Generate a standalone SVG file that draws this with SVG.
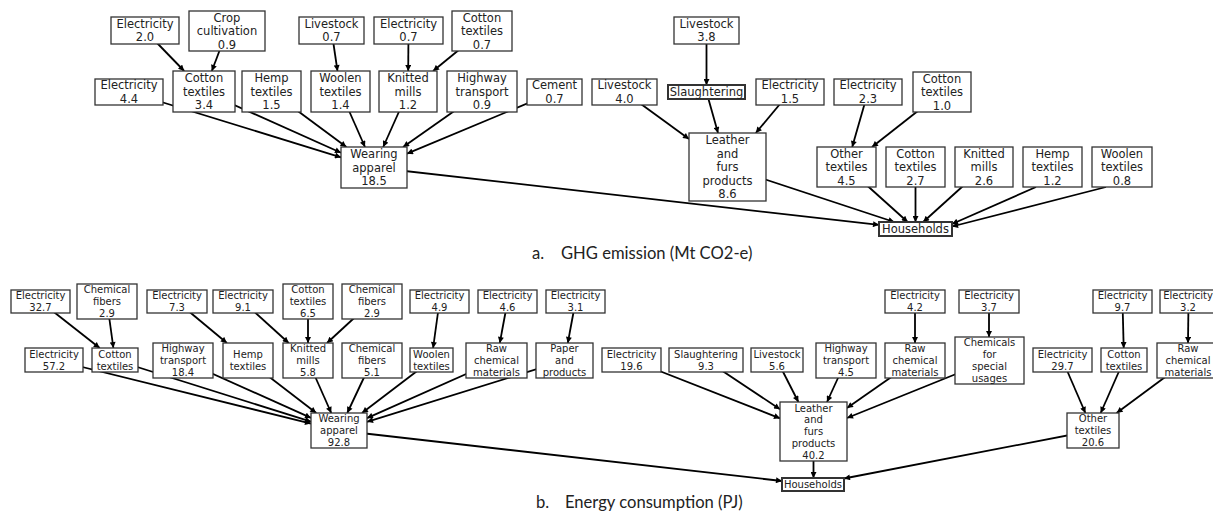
<svg xmlns="http://www.w3.org/2000/svg" width="1213" height="513" viewBox="0 0 1213 513">
<style>
.bg{fill:#fff}
.box{fill:#fff;stroke:#333;stroke-width:1.3}
.tight{stroke-width:2}
.ta{font-family:"DejaVu Sans",sans-serif;font-size:11.5px;fill:#222;text-anchor:middle}
.tb{font-family:"DejaVu Sans",sans-serif;font-size:10px;fill:#222;text-anchor:middle}
.e{stroke:#000;stroke-width:1.8;fill:none;marker-end:url(#ah)}
.cap{font-family:Lato,"Liberation Sans",sans-serif;font-size:16.6px;fill:#222}
</style>
<defs>
<marker id="ah" viewBox="0 0 10 10" refX="10" refY="5" markerWidth="7" markerHeight="6" markerUnits="userSpaceOnUse" orient="auto">
<path d="M0,0 L10,5 L0,10 z" fill="#000"/>
</marker>
</defs>
<rect class="bg" x="0" y="0" width="1213" height="513"/>
<g id="connectors">
<line class="e" x1="145" y1="30.5" x2="184.2" y2="71"/>
<line class="e" x1="227" y1="31" x2="211.8" y2="71"/>
<line class="e" x1="331.5" y1="30.5" x2="337.5" y2="71"/>
<line class="e" x1="408.5" y1="30.5" x2="408.2" y2="71"/>
<line class="e" x1="482" y1="31" x2="433.1" y2="71"/>
<line class="e" x1="129" y1="92" x2="341" y2="157.3"/>
<line class="e" x1="204" y1="91.5" x2="341" y2="152.75"/>
<line class="e" x1="271.5" y1="91.5" x2="346.4" y2="147"/>
<line class="e" x1="340.5" y1="91.5" x2="365" y2="147"/>
<line class="e" x1="408" y1="91.5" x2="383.2" y2="147"/>
<line class="e" x1="482" y1="91.5" x2="403.1" y2="147"/>
<line class="e" x1="554.5" y1="92" x2="407" y2="153.7"/>
<line class="e" x1="374" y1="167.5" x2="879" y2="224.85"/>
<line class="e" x1="706.5" y1="30.5" x2="706.5" y2="85"/>
<line class="e" x1="624.5" y1="92" x2="689" y2="139"/>
<line class="e" x1="706.5" y1="92" x2="718" y2="133"/>
<line class="e" x1="790" y1="92" x2="755.8" y2="133"/>
<line class="e" x1="727.5" y1="167" x2="894.3" y2="222"/>
<line class="e" x1="868" y1="92" x2="852.2" y2="147"/>
<line class="e" x1="942" y1="92" x2="872" y2="147"/>
<line class="e" x1="846.5" y1="167" x2="907.7" y2="222"/>
<line class="e" x1="915.5" y1="167" x2="915.5" y2="222"/>
<line class="e" x1="984" y1="167" x2="923.2" y2="222"/>
<line class="e" x1="1036" y1="187" x2="952" y2="224"/>
<line class="e" x1="1106" y1="187" x2="952" y2="226.5"/>
<line class="e" x1="40.5" y1="301.5" x2="99.7" y2="348"/>
<line class="e" x1="107" y1="301.5" x2="113.4" y2="348"/>
<line class="e" x1="177" y1="301.5" x2="226.9" y2="343"/>
<line class="e" x1="243" y1="301.5" x2="288.7" y2="343"/>
<line class="e" x1="308" y1="301.5" x2="308" y2="343"/>
<line class="e" x1="372" y1="301.5" x2="327" y2="343"/>
<line class="e" x1="439.5" y1="301.5" x2="433.1" y2="348"/>
<line class="e" x1="507.5" y1="301.5" x2="499.8" y2="343"/>
<line class="e" x1="575.5" y1="301.5" x2="567.8" y2="343"/>
<line class="e" x1="54" y1="360" x2="311" y2="423.6"/>
<line class="e" x1="115" y1="360" x2="311" y2="421.7"/>
<line class="e" x1="183" y1="360.5" x2="311" y2="417.9"/>
<line class="e" x1="248" y1="360.5" x2="316.25" y2="413"/>
<line class="e" x1="308" y1="360.5" x2="331.25" y2="413"/>
<line class="e" x1="372" y1="360.5" x2="347.25" y2="413"/>
<line class="e" x1="431.5" y1="360" x2="362" y2="413"/>
<line class="e" x1="496.5" y1="360.5" x2="367" y2="418.1"/>
<line class="e" x1="564.5" y1="360.5" x2="367" y2="421.8"/>
<line class="e" x1="915" y1="301.5" x2="915" y2="343"/>
<line class="e" x1="989" y1="301.5" x2="989" y2="337"/>
<line class="e" x1="631.5" y1="360" x2="780" y2="418.3"/>
<line class="e" x1="706" y1="360" x2="780" y2="409.2"/>
<line class="e" x1="777" y1="360" x2="798.4" y2="402"/>
<line class="e" x1="846" y1="360.5" x2="827" y2="402"/>
<line class="e" x1="915" y1="360.5" x2="847" y2="408.1"/>
<line class="e" x1="989.5" y1="360.5" x2="847" y2="418"/>
<line class="e" x1="1122.5" y1="301.5" x2="1123.7" y2="348"/>
<line class="e" x1="1188.5" y1="301.5" x2="1188" y2="343"/>
<line class="e" x1="1062.5" y1="360" x2="1085.4" y2="413"/>
<line class="e" x1="1124" y1="360" x2="1100.7" y2="413"/>
<line class="e" x1="1187.5" y1="360.5" x2="1116.6" y2="413"/>
<line class="e" x1="339" y1="430.5" x2="782" y2="481"/>
<line class="e" x1="813.5" y1="431.5" x2="813.5" y2="478"/>
<line class="e" x1="1093" y1="430.5" x2="844" y2="478.5"/>
</g>
<!-- Part a nodes -->
<g id="a-elec-2-0"><rect class="box" x="111" y="17" width="68" height="27"/><text class="ta"><tspan x="145" y="27.85">Electricity</tspan><tspan x="145" y="41.35">2.0</tspan></text></g>
<g id="a-crop-0-9"><rect class="box" x="189" y="11" width="76" height="40"/><text class="ta"><tspan x="227" y="21.6">Crop</tspan><tspan x="227" y="35.1">cultivation</tspan><tspan x="227" y="48.6">0.9</tspan></text></g>
<g id="a-livestock-0-7"><rect class="box" x="299" y="17" width="65" height="27"/><text class="ta"><tspan x="331.5" y="27.85">Livestock</tspan><tspan x="331.5" y="41.35">0.7</tspan></text></g>
<g id="a-elec-0-7"><rect class="box" x="374" y="17" width="69" height="27"/><text class="ta"><tspan x="408.5" y="27.85">Electricity</tspan><tspan x="408.5" y="41.35">0.7</tspan></text></g>
<g id="a-cotton-0-7"><rect class="box" x="452" y="11" width="60" height="40"/><text class="ta"><tspan x="482" y="21.6">Cotton</tspan><tspan x="482" y="35.1">textiles</tspan><tspan x="482" y="48.6">0.7</tspan></text></g>
<g id="a-elec-4-4"><rect class="box" x="95" y="79" width="68" height="26"/><text class="ta"><tspan x="129" y="89.35">Electricity</tspan><tspan x="129" y="102.85">4.4</tspan></text></g>
<g id="a-cotton-3-4"><rect class="box" x="173" y="71" width="62" height="41"/><text class="ta"><tspan x="204" y="82.1">Cotton</tspan><tspan x="204" y="95.6">textiles</tspan><tspan x="204" y="109.1">3.4</tspan></text></g>
<g id="a-hemp-1-5"><rect class="box" x="242" y="71" width="59" height="41"/><text class="ta"><tspan x="271.5" y="82.1">Hemp</tspan><tspan x="271.5" y="95.6">textiles</tspan><tspan x="271.5" y="109.1">1.5</tspan></text></g>
<g id="a-woolen-1-4"><rect class="box" x="311" y="71" width="59" height="41"/><text class="ta"><tspan x="340.5" y="82.1">Woolen</tspan><tspan x="340.5" y="95.6">textiles</tspan><tspan x="340.5" y="109.1">1.4</tspan></text></g>
<g id="a-knitted-1-2"><rect class="box" x="379" y="71" width="58" height="41"/><text class="ta"><tspan x="408" y="82.1">Knitted</tspan><tspan x="408" y="95.6">mills</tspan><tspan x="408" y="109.1">1.2</tspan></text></g>
<g id="a-highway-0-9"><rect class="box" x="447" y="71" width="70" height="41"/><text class="ta"><tspan x="482" y="82.1">Highway</tspan><tspan x="482" y="95.6">transport</tspan><tspan x="482" y="109.1">0.9</tspan></text></g>
<g id="a-cement-0-7"><rect class="box" x="527" y="79" width="55" height="26"/><text class="ta"><tspan x="554.5" y="89.35">Cement</tspan><tspan x="554.5" y="102.85">0.7</tspan></text></g>
<g id="a-wearing-18-5"><rect class="box" x="341" y="147" width="66" height="41"/><text class="ta"><tspan x="374" y="158.1">Wearing</tspan><tspan x="374" y="171.6">apparel</tspan><tspan x="374" y="185.1">18.5</tspan></text></g>
<g id="a-livestock-3-8"><rect class="box" x="674" y="17" width="65" height="27"/><text class="ta"><tspan x="706.5" y="27.85">Livestock</tspan><tspan x="706.5" y="41.35">3.8</tspan></text></g>
<g id="a-livestock-4-0"><rect class="box" x="592" y="79" width="65" height="26"/><text class="ta"><tspan x="624.5" y="89.35">Livestock</tspan><tspan x="624.5" y="102.85">4.0</tspan></text></g>
<g id="a-slaughtering"><rect class="box tight" x="668" y="85" width="77" height="14"/><text class="ta"><tspan x="706.5" y="96.1">Slaughtering</tspan></text></g>
<g id="a-elec-1-5"><rect class="box" x="756" y="79" width="68" height="26"/><text class="ta"><tspan x="790" y="89.35">Electricity</tspan><tspan x="790" y="102.85">1.5</tspan></text></g>
<g id="a-leather-8-6"><rect class="box" x="689" y="133" width="77" height="68"/><text class="ta"><tspan x="727.5" y="144.1">Leather</tspan><tspan x="727.5" y="157.6">and</tspan><tspan x="727.5" y="171.1">furs</tspan><tspan x="727.5" y="184.6">products</tspan><tspan x="727.5" y="198.1">8.6</tspan></text></g>
<g id="a-elec-2-3"><rect class="box" x="834" y="79" width="68" height="26"/><text class="ta"><tspan x="868" y="89.35">Electricity</tspan><tspan x="868" y="102.85">2.3</tspan></text></g>
<g id="a-cotton-1-0"><rect class="box" x="913" y="72" width="58" height="40"/><text class="ta"><tspan x="942" y="82.6">Cotton</tspan><tspan x="942" y="96.1">textiles</tspan><tspan x="942" y="109.6">1.0</tspan></text></g>
<g id="a-other-4-5"><rect class="box" x="817" y="147" width="59" height="40"/><text class="ta"><tspan x="846.5" y="157.6">Other</tspan><tspan x="846.5" y="171.1">textiles</tspan><tspan x="846.5" y="184.6">4.5</tspan></text></g>
<g id="a-cotton-2-7"><rect class="box" x="886" y="147" width="59" height="40"/><text class="ta"><tspan x="915.5" y="157.6">Cotton</tspan><tspan x="915.5" y="171.1">textiles</tspan><tspan x="915.5" y="184.6">2.7</tspan></text></g>
<g id="a-knitted-2-6"><rect class="box" x="955" y="147" width="58" height="40"/><text class="ta"><tspan x="984" y="157.6">Knitted</tspan><tspan x="984" y="171.1">mills</tspan><tspan x="984" y="184.6">2.6</tspan></text></g>
<g id="a-hemp-1-2"><rect class="box" x="1023" y="147" width="59" height="40"/><text class="ta"><tspan x="1052.5" y="157.6">Hemp</tspan><tspan x="1052.5" y="171.1">textiles</tspan><tspan x="1052.5" y="184.6">1.2</tspan></text></g>
<g id="a-woolen-0-8"><rect class="box" x="1092" y="147" width="60" height="40"/><text class="ta"><tspan x="1122" y="157.6">Woolen</tspan><tspan x="1122" y="171.1">textiles</tspan><tspan x="1122" y="184.6">0.8</tspan></text></g>
<g id="a-households"><rect class="box tight" x="879" y="222" width="73" height="14"/><text class="ta"><tspan x="915.5" y="233.1">Households</tspan></text></g>
<!-- Part b nodes -->
<g id="b-elec-32-7"><rect class="box" x="11" y="290" width="59" height="23"/><text class="tb"><tspan x="40.5" y="299.2">Electricity</tspan><tspan x="40.5" y="311">32.7</tspan></text></g>
<g id="b-chemfib-2-9a"><rect class="box" x="77" y="284" width="60" height="35"/><text class="tb"><tspan x="107" y="293.3">Chemical</tspan><tspan x="107" y="305.1">fibers</tspan><tspan x="107" y="316.9">2.9</tspan></text></g>
<g id="b-elec-7-3"><rect class="box" x="147" y="290" width="60" height="23"/><text class="tb"><tspan x="177" y="299.2">Electricity</tspan><tspan x="177" y="311">7.3</tspan></text></g>
<g id="b-elec-9-1"><rect class="box" x="213" y="290" width="60" height="23"/><text class="tb"><tspan x="243" y="299.2">Electricity</tspan><tspan x="243" y="311">9.1</tspan></text></g>
<g id="b-cotton-6-5"><rect class="box" x="283" y="284" width="50" height="35"/><text class="tb"><tspan x="308" y="293.3">Cotton</tspan><tspan x="308" y="305.1">textiles</tspan><tspan x="308" y="316.9">6.5</tspan></text></g>
<g id="b-chemfib-2-9b"><rect class="box" x="342" y="284" width="60" height="35"/><text class="tb"><tspan x="372" y="293.3">Chemical</tspan><tspan x="372" y="305.1">fibers</tspan><tspan x="372" y="316.9">2.9</tspan></text></g>
<g id="b-elec-4-9"><rect class="box" x="410" y="290" width="59" height="23"/><text class="tb"><tspan x="439.5" y="299.2">Electricity</tspan><tspan x="439.5" y="311">4.9</tspan></text></g>
<g id="b-elec-4-6"><rect class="box" x="478" y="290" width="59" height="23"/><text class="tb"><tspan x="507.5" y="299.2">Electricity</tspan><tspan x="507.5" y="311">4.6</tspan></text></g>
<g id="b-elec-3-1"><rect class="box" x="546" y="290" width="59" height="23"/><text class="tb"><tspan x="575.5" y="299.2">Electricity</tspan><tspan x="575.5" y="311">3.1</tspan></text></g>
<g id="b-elec-57-2"><rect class="box" x="25" y="348" width="58" height="24"/><text class="tb"><tspan x="54" y="357.7">Electricity</tspan><tspan x="54" y="369.5">57.2</tspan></text></g>
<g id="b-cotton-wa"><rect class="box" x="92" y="348" width="46" height="24"/><text class="tb"><tspan x="115" y="357.7">Cotton</tspan><tspan x="115" y="369.5">textiles</tspan></text></g>
<g id="b-highway-18-4"><rect class="box" x="153" y="343" width="60" height="35"/><text class="tb"><tspan x="183" y="352.3">Highway</tspan><tspan x="183" y="364.1">transport</tspan><tspan x="183" y="375.9">18.4</tspan></text></g>
<g id="b-hemp"><rect class="box" x="223" y="343" width="50" height="35"/><text class="tb"><tspan x="248" y="358.2">Hemp</tspan><tspan x="248" y="370">textiles</tspan></text></g>
<g id="b-knitted-5-8"><rect class="box" x="283" y="343" width="50" height="35"/><text class="tb"><tspan x="308" y="352.3">Knitted</tspan><tspan x="308" y="364.1">mills</tspan><tspan x="308" y="375.9">5.8</tspan></text></g>
<g id="b-chemfib-5-1"><rect class="box" x="342" y="343" width="60" height="35"/><text class="tb"><tspan x="372" y="352.3">Chemical</tspan><tspan x="372" y="364.1">fibers</tspan><tspan x="372" y="375.9">5.1</tspan></text></g>
<g id="b-woolen"><rect class="box" x="410" y="348" width="43" height="24"/><text class="tb"><tspan x="431.5" y="357.7">Woolen</tspan><tspan x="431.5" y="369.5">textiles</tspan></text></g>
<g id="b-rawchem-wa"><rect class="box" x="466" y="343" width="61" height="35"/><text class="tb"><tspan x="496.5" y="352.3">Raw</tspan><tspan x="496.5" y="364.1">chemical</tspan><tspan x="496.5" y="375.9">materials</tspan></text></g>
<g id="b-paper"><rect class="box" x="536" y="343" width="57" height="35"/><text class="tb"><tspan x="564.5" y="352.3">Paper</tspan><tspan x="564.5" y="364.1">and</tspan><tspan x="564.5" y="375.9">products</tspan></text></g>
<g id="b-wearing-92-8"><rect class="box" x="311" y="413" width="56" height="35"/><text class="tb"><tspan x="339" y="422.3">Wearing</tspan><tspan x="339" y="434.1">apparel</tspan><tspan x="339" y="445.9">92.8</tspan></text></g>
<g id="b-elec-19-6"><rect class="box" x="602" y="348" width="59" height="24"/><text class="tb"><tspan x="631.5" y="357.7">Electricity</tspan><tspan x="631.5" y="369.5">19.6</tspan></text></g>
<g id="b-slaughtering-9-3"><rect class="box" x="669" y="348" width="74" height="24"/><text class="tb"><tspan x="706" y="357.7">Slaughtering</tspan><tspan x="706" y="369.5">9.3</tspan></text></g>
<g id="b-livestock-5-6"><rect class="box" x="751" y="348" width="52" height="24"/><text class="tb"><tspan x="777" y="357.7">Livestock</tspan><tspan x="777" y="369.5">5.6</tspan></text></g>
<g id="b-highway-4-5"><rect class="box" x="816" y="343" width="60" height="35"/><text class="tb"><tspan x="846" y="352.3">Highway</tspan><tspan x="846" y="364.1">transport</tspan><tspan x="846" y="375.9">4.5</tspan></text></g>
<g id="b-elec-4-2"><rect class="box" x="885" y="290" width="60" height="23"/><text class="tb"><tspan x="915" y="299.2">Electricity</tspan><tspan x="915" y="311">4.2</tspan></text></g>
<g id="b-rawchem-lf"><rect class="box" x="885" y="343" width="60" height="35"/><text class="tb"><tspan x="915" y="352.3">Raw</tspan><tspan x="915" y="364.1">chemical</tspan><tspan x="915" y="375.9">materials</tspan></text></g>
<g id="b-elec-3-7"><rect class="box" x="959" y="290" width="60" height="23"/><text class="tb"><tspan x="989" y="299.2">Electricity</tspan><tspan x="989" y="311">3.7</tspan></text></g>
<g id="b-chemicals-special"><rect class="box" x="955" y="337" width="69" height="47"/><text class="tb"><tspan x="989.5" y="346.4">Chemicals</tspan><tspan x="989.5" y="358.2">for</tspan><tspan x="989.5" y="370">special</tspan><tspan x="989.5" y="381.8">usages</tspan></text></g>
<g id="b-leather-40-2"><rect class="box" x="780" y="402" width="67" height="59"/><text class="tb"><tspan x="813.5" y="411.5">Leather</tspan><tspan x="813.5" y="423.3">and</tspan><tspan x="813.5" y="435.1">furs</tspan><tspan x="813.5" y="446.9">products</tspan><tspan x="813.5" y="458.7">40.2</tspan></text></g>
<g id="b-elec-9-7"><rect class="box" x="1093" y="290" width="59" height="23"/><text class="tb"><tspan x="1122.5" y="299.2">Electricity</tspan><tspan x="1122.5" y="311">9.7</tspan></text></g>
<g id="b-elec-3-2"><rect class="box" x="1160" y="290" width="57" height="23"/><text class="tb"><tspan x="1188" y="299.2">Electricity</tspan><tspan x="1188" y="311">3.2</tspan></text></g>
<g id="b-elec-29-7"><rect class="box" x="1033" y="348" width="59" height="24"/><text class="tb"><tspan x="1062.5" y="357.7">Electricity</tspan><tspan x="1062.5" y="369.5">29.7</tspan></text></g>
<g id="b-cotton-ot"><rect class="box" x="1101" y="348" width="46" height="24"/><text class="tb"><tspan x="1124" y="357.7">Cotton</tspan><tspan x="1124" y="369.5">textiles</tspan></text></g>
<g id="b-rawchem-ot"><rect class="box" x="1157" y="343" width="61" height="35"/><text class="tb"><tspan x="1188" y="352.3">Raw</tspan><tspan x="1188" y="364.1">chemical</tspan><tspan x="1188" y="375.9">materials</tspan></text></g>
<g id="b-other-20-6"><rect class="box" x="1067" y="413" width="52" height="35"/><text class="tb"><tspan x="1093" y="422.3">Other</tspan><tspan x="1093" y="434.1">textiles</tspan><tspan x="1093" y="445.9">20.6</tspan></text></g>
<g id="b-households"><rect class="box tight" x="782" y="478" width="62" height="13"/><text class="tb"><tspan x="813" y="488.1">Households</tspan></text></g>
<!-- captions -->
<text class="cap" x="532" y="259">a.</text>
<text class="cap" x="561" y="259">GHG emission (Mt CO2-e)</text>
<text class="cap" x="536" y="508">b.</text>
<text class="cap" x="565" y="508">Energy consumption (PJ)</text>
</svg>
